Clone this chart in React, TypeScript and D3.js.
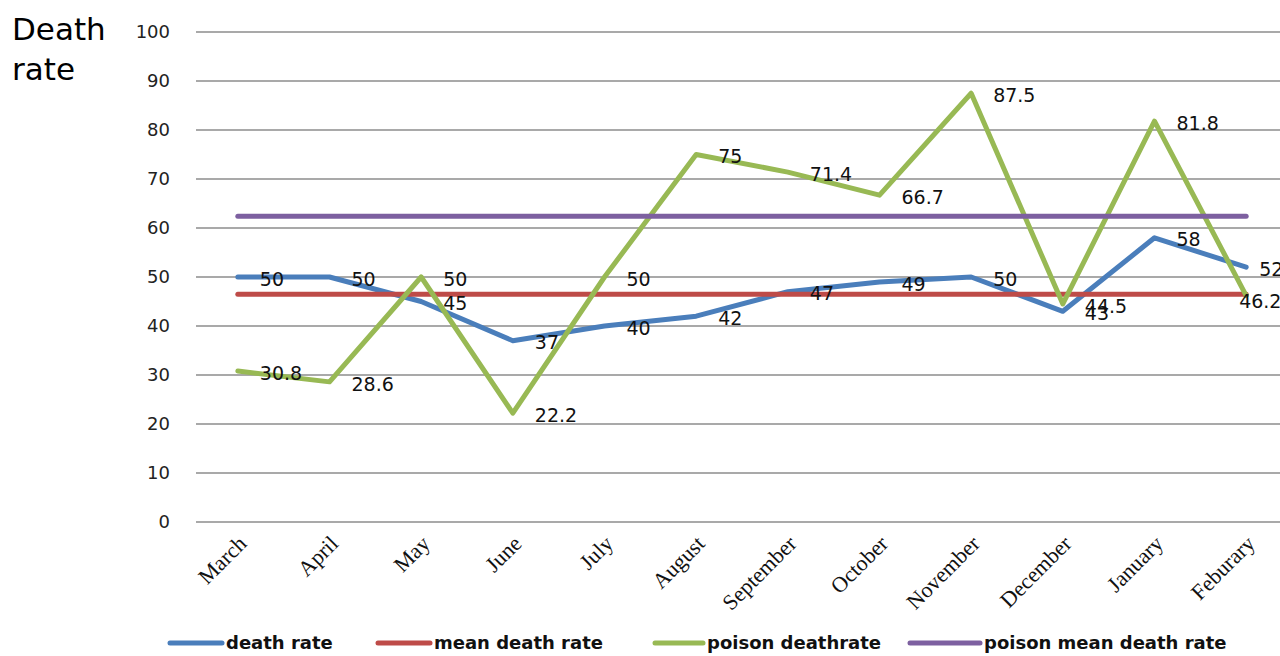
import * as d3 from "d3";
import React from "react";

const months = ["March", "April", "May", "June", "July", "August", "September", "October", "November", "December", "January", "Feburary"];
const deathRate = [50, 50, 45, 37, 40, 42, 47, 49, 50, 43, 58, 52];
const poisonDeathRate = [30.8, 28.6, 50, 22.2, 50, 75, 71.4, 66.7, 87.5, 44.5, 81.8, 46.2];
const meanDeathRate = 46.5;
const poisonMeanDeathRate = 62.4;
const yTicks = [0, 10, 20, 30, 40, 50, 60, 70, 80, 90, 100];
const legendNames = ["death rate", "mean death rate", "poison deathrate", "poison mean death rate"];

const colors = ["#4a7ebb", "#be4b48", "#98b954", "#7d60a0"];

const W = 1280;
const H = 656;

export default function App() {
  const x = d3.scalePoint<string>().domain(months).range([192, 1292]).padding(0.5);
  const y = d3.scaleLinear().domain([0, 100]).range([522, 32]);

  const line = d3.line<number>()
    .x((_, i) => x(months[i]) as number)
    .y((d) => y(d));

  const flat = (v: number) => months.map(() => v);
  const series = [deathRate, flat(meanDeathRate), poisonDeathRate, flat(poisonMeanDeathRate)];

  const legendX = [170, 378, 655, 910];
  const legendLine = [52, 52, 48, 70];
  const last = months.length - 1;
  // the last labels get squeezed against the right edge
  const labelDx = (k: number, i: number) => (i === last ? (k === 0 ? 13 : -7) : 22);
  const labelDy = (k: number, i: number) => (i === last && k === 1 ? 6 : 2);

  return (
    <svg width={W} height={H} style={{ position: "absolute", left: 0, top: 0, background: "#fff" }}>
      <text x={12} y={40} fontFamily="DejaVu Sans, sans-serif" fontSize={31} fill="#000">Death</text>
      <text x={12} y={80} fontFamily="DejaVu Sans, sans-serif" fontSize={31} fill="#000">rate</text>

      {yTicks.map((t) => (
        <g key={t}>
          <line x1={196} x2={W} y1={y(t)} y2={y(t)} stroke="#8c8c8c" strokeWidth={1.6} />
          <text x={170} y={y(t)} dy="0.35em" textAnchor="end" fontFamily="DejaVu Sans, sans-serif" fontSize={18} fill="#222">{t}</text>
        </g>
      ))}

      {months.map((m) => (
        <text key={m} transform={`translate(${(x(m) as number) + 10},${545}) rotate(-45)`} textAnchor="end"
          fontFamily="Liberation Serif, Times New Roman, serif" fontSize={22} fill="#111">{m}</text>
      ))}

      {series.map((s, i) => (
        <path key={i} d={line(s) ?? ""} fill="none" stroke={colors[i]} strokeWidth={5} strokeLinejoin="round" strokeLinecap="round" />
      ))}

      {[deathRate, poisonDeathRate].map((s, k) => s.map((v, i) => (
        <text key={`${k}-${i}`} x={(x(months[i]) as number) + labelDx(k, i)} y={y(v) + labelDy(k, i)} dy="0.35em"
          fontFamily="DejaVu Sans, sans-serif" fontSize={19} fill="#111">{v}</text>
      )))}

      {legendNames.map((n, i) => (
        <g key={n}>
          <line x1={legendX[i]} x2={legendX[i] + legendLine[i]} y1={643} y2={643} stroke={colors[i]} strokeWidth={5} strokeLinecap="round" />
          <text x={legendX[i] + legendLine[i] + 4} y={643} dy="0.35em" fontFamily="DejaVu Sans, sans-serif" fontWeight="bold" fontSize={18} fill="#111">{n}</text>
        </g>
      ))}
    </svg>
  );
}
